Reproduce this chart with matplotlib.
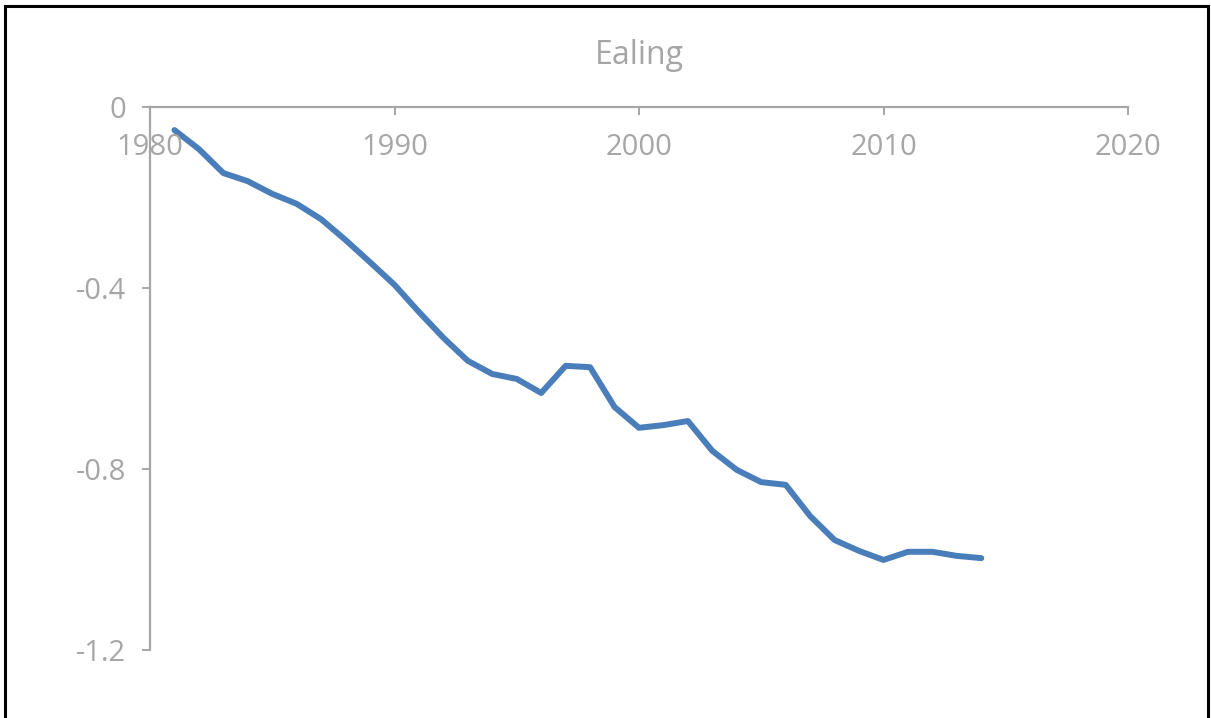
import matplotlib
matplotlib.use("Agg")
import matplotlib.pyplot as plt
from matplotlib.patches import Rectangle

years = list(range(1981, 2015))
values = [-0.051, -0.093, -0.146, -0.164, -0.192, -0.214, -0.248, -0.294,
          -0.343, -0.393, -0.453, -0.510, -0.561, -0.590, -0.601, -0.632,
          -0.572, -0.575, -0.663, -0.709, -0.703, -0.694, -0.760, -0.802,
          -0.829, -0.835, -0.904, -0.957, -0.981, -1.001, -0.983, -0.983,
          -0.992, -0.997]
x_ticks = [1980, 1990, 2000, 2010, 2020]
y_ticks = [0, -0.4, -0.8, -1.2]
y_labels = ["0", "-0.4", "-0.8", "-1.2"]
title = "Ealing"

grey = "#a6a6a6"
plt.rcParams["font.family"] = ["Open Sans", "DejaVu Sans"]

W, H = 1211, 718
fig = plt.figure(figsize=(W / 100, H / 100), dpi=100)
ax = fig.add_axes([150 / W, 1 - 650 / H, (1128 - 150) / W, (650 - 107) / H])

ax.plot(years, values, color="#4a7ebb", lw=4.3, solid_capstyle="round",
        solid_joinstyle="round")

ax.set_xlim(1980, 2020)
ax.set_ylim(-1.2, 0)
ax.set_xticks(x_ticks)
ax.set_yticks(y_ticks)
ax.set_yticklabels(y_labels)

for s in ["right", "bottom"]:
    ax.spines[s].set_visible(False)
for s in ["left", "top"]:
    ax.spines[s].set_color(grey)
    ax.spines[s].set_linewidth(1.6)

ax.xaxis.set_ticks_position("top")
ax.tick_params(axis="x", direction="in", length=6, width=1.4, color=grey,
               labeltop=False, labelbottom=False)
ax.tick_params(axis="y", direction="out", length=6, width=1.4, color=grey,
               labelsize=21, labelcolor=grey, pad=11)

for xv in x_ticks:
    ax.annotate(str(xv), xy=(xv, 0), xycoords="data", xytext=(0, -29),
                textcoords="offset points", ha="center", va="center",
                fontsize=21, color=grey)

fig.text((150 + 1128) / 2 / W, 1 - 56 / H, title, ha="center", va="center",
         fontsize=23, color=grey)

fig.patches.append(Rectangle((5 / W, -0.05), (1208 - 5) / W, 1 - 6 / H + 0.05,
                             transform=fig.transFigure, fill=False,
                             edgecolor="black", lw=2.2))

fig.savefig("out.png", dpi=100, facecolor="white")
